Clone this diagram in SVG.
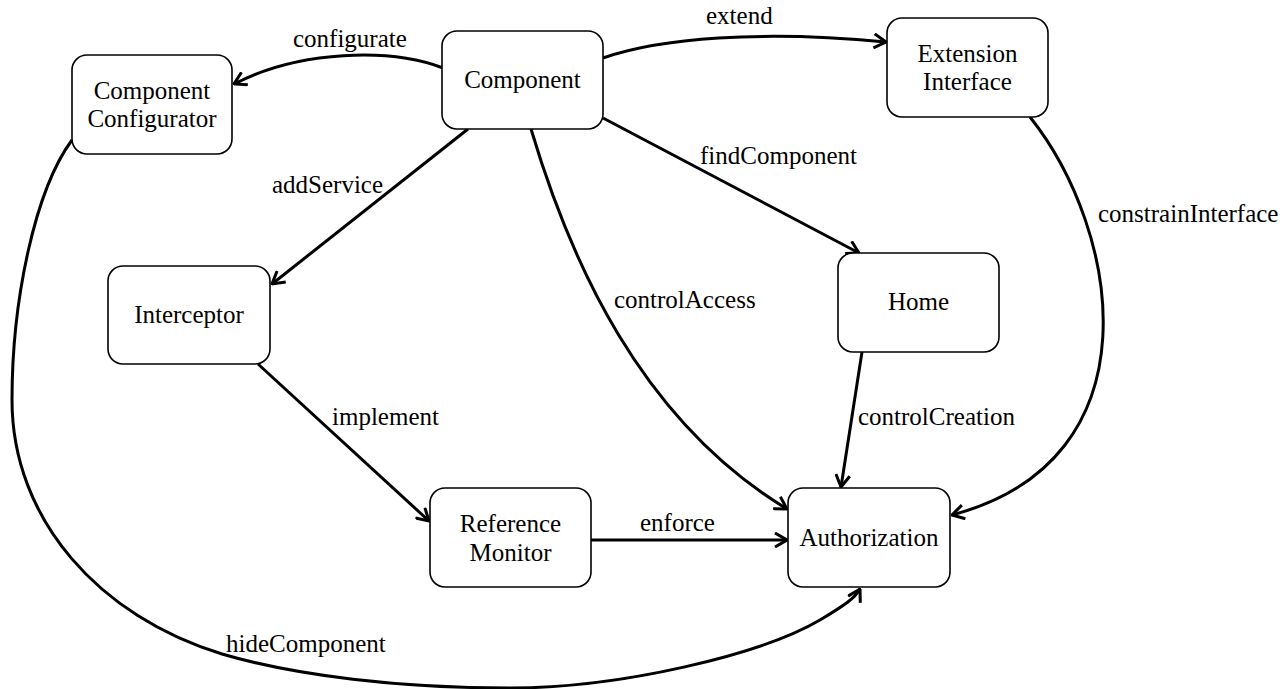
<svg xmlns="http://www.w3.org/2000/svg" width="1286" height="689" viewBox="0 0 1286 689">
  <style>
    .box { fill: #ffffff; stroke: #000000; stroke-width: 1.6; }
    .name { font-family: "Liberation Serif", "Times New Roman", "DejaVu Serif", serif; font-size: 25px; fill: #000000; text-anchor: middle; }
    .lbl { font-family: "Liberation Serif", "Times New Roman", "DejaVu Serif", serif; font-size: 25px; fill: #000000; }
    .edge { fill: none; stroke: #000000; stroke-width: 3; marker-end: url(#arrow); }
  </style>
  <defs>
    <marker id="arrow" viewBox="0 0 14 16" refX="13" refY="8" markerWidth="14" markerHeight="16" markerUnits="userSpaceOnUse" orient="auto">
      <path d="M1,1 L13,8 L1,15" fill="none" stroke="#000000" stroke-width="3"/>
    </marker>
  </defs>
  <rect width="1286" height="689" fill="#ffffff"/>

  <!-- connectors -->
  <g id="connectors">
    <path id="e-configurate" class="edge" d="M443,68 C390,48 300,50 234,84"/>
    <path id="e-extend" class="edge" d="M603,58 C660,38 760,30 886,42"/>
    <path id="e-addService" class="edge" d="M468,129 L272,284"/>
    <path id="e-controlAccess" class="edge" d="M531,129 C570,260 640,420 787,509"/>
    <path id="e-findComponent" class="edge" d="M603,118 L859,253"/>
    <path id="e-constrainInterface" class="edge" d="M1030,117 C1120,230 1160,460 952,515"/>
    <path id="e-controlCreation" class="edge" d="M862,352 L841,487"/>
    <path id="e-implement" class="edge" d="M258,364 L429,521"/>
    <path id="e-enforce" class="edge" d="M591,540 L787,540"/>
    <path id="e-hideComponent" class="edge" d="M72,140 C35,190 12,300 12,400 C12,520 100,617 222,654 C297,676 400,688 510,688 C620,688 760,655 820,620 C845,605 855,598 860,589"/>

    <text class="lbl" x="293" y="47">configurate</text>
    <text class="lbl" x="706" y="24">extend</text>
    <text class="lbl" x="272" y="193">addService</text>
    <text class="lbl" x="700" y="164">findComponent</text>
    <text class="lbl" x="1098" y="222">constrainInterface</text>
    <text class="lbl" x="614" y="308">controlAccess</text>
    <text class="lbl" x="332" y="425">implement</text>
    <text class="lbl" x="858" y="425">controlCreation</text>
    <text class="lbl" x="640" y="531">enforce</text>
    <text class="lbl" x="226" y="652">hideComponent</text>
  </g>

  <!-- nodes -->
  <g id="component">
    <rect class="box" x="442" y="31" width="161" height="98" rx="15"/>
    <text class="name" x="522.5" y="88">Component</text>
  </g>
  <g id="component-configurator">
    <rect class="box" x="72" y="55" width="160" height="99" rx="15"/>
    <text class="name" x="152" y="99">Component</text>
    <text class="name" x="152" y="127">Configurator</text>
  </g>
  <g id="extension-interface">
    <rect class="box" x="887" y="18" width="161" height="99" rx="15"/>
    <text class="name" x="967.5" y="62">Extension</text>
    <text class="name" x="967.5" y="90">Interface</text>
  </g>
  <g id="interceptor">
    <rect class="box" x="108" y="266" width="162" height="98" rx="15"/>
    <text class="name" x="189" y="323">Interceptor</text>
  </g>
  <g id="home">
    <rect class="box" x="838" y="253" width="161" height="99" rx="15"/>
    <text class="name" x="918.5" y="310">Home</text>
  </g>
  <g id="reference-monitor">
    <rect class="box" x="430" y="488" width="161" height="99" rx="15"/>
    <text class="name" x="510.5" y="532">Reference</text>
    <text class="name" x="510.5" y="561">Monitor</text>
  </g>
  <g id="authorization">
    <rect class="box" x="788" y="488" width="162" height="99" rx="15"/>
    <text class="name" x="869" y="546">Authorization</text>
  </g>
</svg>
